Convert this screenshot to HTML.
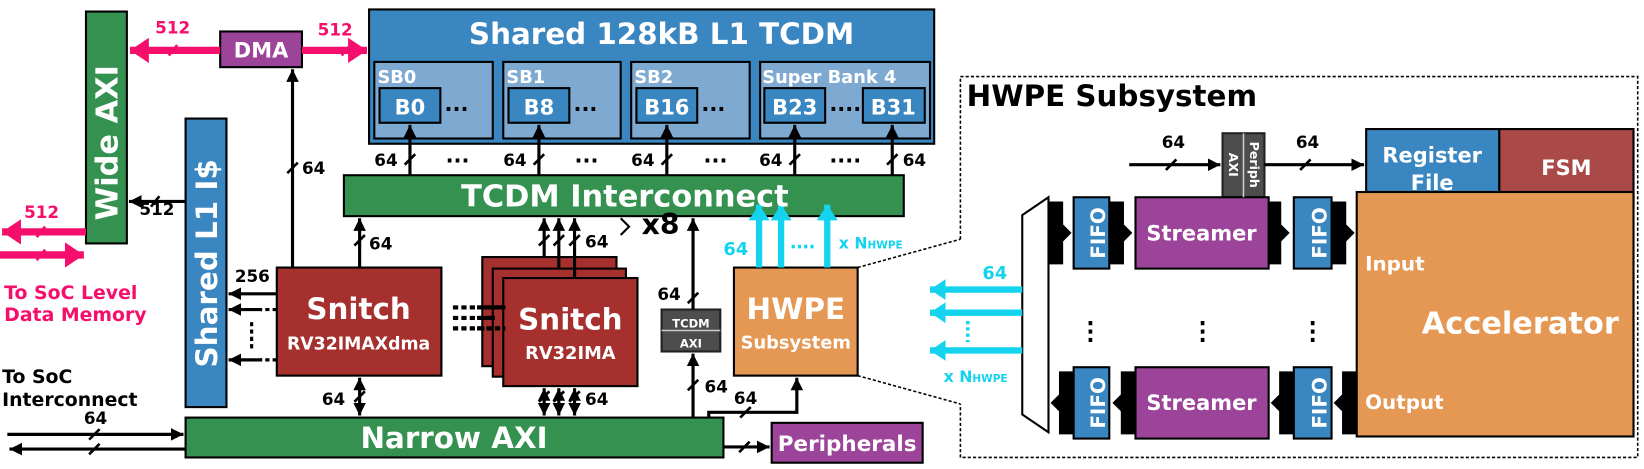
<!DOCTYPE html>
<html><head><meta charset="utf-8"><style>
html,body{margin:0;padding:0;background:#fff;}
svg{display:block}
text{font-family:"DejaVu Sans","Liberation Sans",sans-serif;font-weight:bold;}
</style></head><body>
<svg width="1644" height="469" viewBox="0 0 1568 447" preserveAspectRatio="none" xmlns="http://www.w3.org/2000/svg">
<defs>
<marker id="a" markerUnits="userSpaceOnUse" markerWidth="14" markerHeight="14" refX="12" refY="7" orient="auto"><path d="M0,1 L12,7 L0,13 Z" fill="#000"/></marker>
<marker id="as" markerUnits="userSpaceOnUse" markerWidth="14" markerHeight="14" refX="12" refY="7" orient="auto-start-reverse"><path d="M0,1 L12,7 L0,13 Z" fill="#000"/></marker>
<marker id="p" markerUnits="userSpaceOnUse" markerWidth="20" markerHeight="24" refX="18" refY="12" orient="auto-start-reverse"><path d="M0,0 L18,12 L0,24 Z" fill="#f50e6b"/></marker>
<marker id="c" markerUnits="userSpaceOnUse" markerWidth="16" markerHeight="20" refX="15" refY="10" orient="auto"><path d="M0,0 L15,10 L0,20 Z" fill="#13d3ee"/></marker>
</defs>
<g stroke="#000" stroke-width="2">
<rect x="82" y="11" width="39" height="221" fill="#35914f"/>
<rect x="210" y="30" width="78" height="34" fill="#9b4499"/>
<rect x="352" y="9" width="539" height="128" fill="#3a86c1"/>
<rect x="357" y="59" width="113" height="73" fill="#7eaad2"/>
<rect x="480" y="59" width="112" height="73" fill="#7eaad2"/>
<rect x="602" y="59" width="113" height="73" fill="#7eaad2"/>
<rect x="725" y="59" width="162" height="73" fill="#7eaad2"/>
<rect x="362" y="84" width="58" height="33" fill="#3a86c1"/>
<rect x="485" y="84" width="58" height="33" fill="#3a86c1"/>
<rect x="607" y="84" width="58" height="33" fill="#3a86c1"/>
<rect x="729" y="84" width="58" height="33" fill="#3a86c1"/>
<rect x="823" y="84" width="59" height="33" fill="#3a86c1"/>
<rect x="328" y="167" width="534" height="39" fill="#35914f"/>
<rect x="177" y="113" width="39" height="275" fill="#3a86c1"/>
<rect x="264" y="255" width="157" height="103" fill="#a5302e"/>
<rect x="460" y="245" width="128" height="104" fill="#a5302e"/>
<rect x="470" y="256" width="127" height="103" fill="#a5302e"/>
<rect x="480" y="265" width="128" height="103" fill="#a5302e"/>
<rect x="177" y="398" width="513" height="38" fill="#35914f"/>
<rect x="736" y="403" width="144" height="38" fill="#9b4499"/>
<rect x="631" y="295" width="56" height="40" fill="#4d4d4d" stroke="#222"/>
<rect x="700" y="255" width="118" height="103" fill="#e59853"/>
<rect x="1166" y="127" width="40" height="61" fill="#4d4d4d" stroke="#222"/>
<rect x="1303" y="123" width="127" height="73" fill="#3a86c1"/>
<rect x="1430" y="123" width="128" height="73" fill="#a94a48"/>
<rect x="1294" y="183" width="264" height="233" fill="#e59853"/>
<path d="M975,205 L1000,188 L1000,412 L975,395 Z" fill="#fff"/>
<rect x="1024" y="188" width="34" height="68" fill="#3a86c1"/>
<rect x="1083" y="188" width="127" height="68" fill="#9b4499"/>
<rect x="1234" y="188" width="36" height="68" fill="#3a86c1"/>
<rect x="1024" y="350" width="34" height="68" fill="#3a86c1"/>
<rect x="1083" y="350" width="127" height="68" fill="#9b4499"/>
<rect x="1234" y="350" width="36" height="68" fill="#3a86c1"/>
</g>
<line x1="631" y1="315" x2="687" y2="315" stroke="#ccc" stroke-width="1.5"/>
<line x1="1186" y1="127" x2="1186" y2="188" stroke="#ccc" stroke-width="1.5"/>
<g fill="#000">
<path d="M1000,192 h14 v22 l8,8 l-8,8 v22 h-14 Z"/>
<path d="M1058,192 h14 v22 l8,8 l-8,8 v22 h-14 Z"/>
<path d="M1210,192 h12 v22 l8,8 l-8,8 v22 h-12 Z"/>
<path d="M1270,192 h14 v22 l8,8 l-8,8 v22 h-14 Z"/>
<path d="M1024,354 h-14 v22 l-8,8 l8,8 v22 h14 Z"/>
<path d="M1083,354 h-14 v22 l-8,8 l8,8 v22 h14 Z"/>
<path d="M1234,354 h-14 v22 l-8,8 l8,8 v22 h14 Z"/>
<path d="M1294,354 h-14 v22 l-8,8 l8,8 v22 h14 Z"/>
</g>
<path d="M916,228 L916,73 L1562,73 L1562,436 L916,436 L916,385" fill="none" stroke="#000" stroke-width="1.5" stroke-dasharray="3,2"/>
<path d="M818,255 L916,228 M818,358 L916,385" fill="none" stroke="#000" stroke-width="1.5" stroke-dasharray="3,2"/>
<g stroke="#f50e6b" stroke-width="7" fill="none">
<line x1="210" y1="48" x2="124" y2="48" marker-end="url(#p)"/>
<line x1="288" y1="48" x2="350" y2="48" marker-end="url(#p)"/>
<line x1="82" y1="221" x2="2" y2="221" marker-end="url(#p)"/>
<line x1="0" y1="243" x2="80" y2="243" marker-end="url(#p)"/>
</g>
<g stroke="#f50e6b" stroke-width="2.5"><path d="M161,53 l8,-10 M326,53 l8,-10 M35,226 l8,-10 M35,248 l8,-10"/></g>
<g stroke="#000" stroke-width="3" fill="none">
<line x1="279" y1="255" x2="279" y2="66" marker-end="url(#a)"/>
<line x1="177" y1="192" x2="123" y2="192" marker-end="url(#a)"/>
<line x1="391" y1="167" x2="391" y2="119" marker-end="url(#a)"/>
<line x1="514" y1="167" x2="514" y2="119" marker-end="url(#a)"/>
<line x1="636" y1="167" x2="636" y2="119" marker-end="url(#a)"/>
<line x1="758" y1="167" x2="758" y2="119" marker-end="url(#a)"/>
<line x1="851" y1="167" x2="851" y2="119" marker-end="url(#a)"/>
<line x1="343" y1="255" x2="343" y2="208" marker-end="url(#a)"/>
<line x1="264" y1="280" x2="218" y2="280" marker-end="url(#a)"/>
<line x1="250" y1="295" x2="218" y2="295" marker-end="url(#a)"/>
<line x1="250" y1="343" x2="218" y2="343" marker-end="url(#a)"/>
<line x1="343" y1="360" x2="343" y2="396" marker-start="url(#as)" marker-end="url(#as)"/>
<line x1="519" y1="245" x2="519" y2="208" marker-end="url(#a)"/>
<line x1="533" y1="256" x2="533" y2="208" marker-end="url(#a)"/>
<line x1="548" y1="265" x2="548" y2="208" marker-end="url(#a)"/>
<line x1="519" y1="370" x2="519" y2="396" marker-start="url(#as)" marker-end="url(#as)"/>
<line x1="533" y1="370" x2="533" y2="396" marker-start="url(#as)" marker-end="url(#as)"/>
<line x1="548" y1="370" x2="548" y2="396" marker-start="url(#as)" marker-end="url(#as)"/>
<line x1="661" y1="295" x2="661" y2="208" marker-end="url(#a)"/>
<line x1="661" y1="398" x2="661" y2="337" marker-end="url(#a)"/>
<path d="M676,398 V393 H760 V360" marker-end="url(#a)"/>
<line x1="690" y1="426" x2="734" y2="426" marker-end="url(#a)"/>
<line x1="7" y1="414" x2="175" y2="414" marker-end="url(#a)"/>
<line x1="177" y1="428" x2="9" y2="428" marker-end="url(#a)"/>
<line x1="1077" y1="157" x2="1164" y2="157" marker-end="url(#a)"/>
<line x1="1206" y1="157" x2="1301" y2="157" marker-end="url(#a)"/>
<path d="M592,208 l8,8 l-8,8" stroke-width="2"/>
</g>
<g stroke="#000" stroke-width="3" stroke-dasharray="4,3"><path d="M264,295 H248 M264,343 H248 M240,307 V332"/></g>
<g stroke="#000" stroke-width="4"><path d="M432,293 H482 M432,303 H472 M432,313 H482" stroke-dasharray="5,3"/><path d="M455,293 H482 M455,303 H472 M455,313 H462"/></g>
<g stroke="#000" stroke-width="3.5" stroke-dasharray="4,4"><path d="M1040,306 V330 M1147,306 V330 M1252,306 V330"/></g>
<g stroke="#000" stroke-width="2.5"><path d="M274,165 l10,-10 M144,197 l8,-10 M386,157 l10,-10 M509,157 l10,-10 M631,157 l10,-10 M753,157 l10,-10 M846,157 l10,-10 M338,234 l10,-10 M338,383 l10,-10 M514,234 l10,-10 M528,234 l10,-10 M543,234 l10,-10 M514,383 l10,-10 M528,383 l10,-10 M543,383 l10,-10 M656,289 l10,-10 M656,372 l10,-10 M706,398 l10,-10 M705,431 l10,-10 M85,419 l10,-10 M85,433 l10,-10 M1112,162 l10,-10 M1240,162 l10,-10"/></g>
<g stroke="#13d3ee" stroke-width="6" fill="none">
<line x1="724" y1="255" x2="724" y2="195" marker-end="url(#c)"/>
<line x1="745" y1="255" x2="745" y2="195" marker-end="url(#c)"/>
<line x1="789" y1="255" x2="789" y2="195" marker-end="url(#c)"/>
<line x1="975" y1="276" x2="887" y2="276" marker-end="url(#c)"/>
<line x1="975" y1="298" x2="887" y2="298" marker-end="url(#c)"/>
<line x1="975" y1="334" x2="887" y2="334" marker-end="url(#c)"/>
</g>
<g stroke="#13d3ee" stroke-width="3.5" stroke-dasharray="3,3"><path d="M923,306 V326 M755,235 H777"/></g>
<g fill="#fff" text-anchor="middle">
<text font-size="29" transform="translate(112,136) rotate(-90)">Wide AXI</text>
<text x="249" y="55" font-size="20">DMA</text>
<text x="631" y="42" font-size="28">Shared 128kB L1 TCDM</text>
<text x="391" y="109" font-size="20">B0</text>
<text x="514" y="109" font-size="20">B8</text>
<text x="636" y="109" font-size="20">B16</text>
<text x="758" y="109" font-size="20">B23</text>
<text x="852" y="109" font-size="20">B31</text>
<text x="596" y="197" font-size="29">TCDM Interconnect</text>
<text font-size="28" transform="translate(207,251) rotate(-90)">Shared L1 I$</text>
<text x="342" y="304" font-size="28">Snitch</text>
<text x="342" y="333" font-size="16.5">RV32IMAXdma</text>
<text x="544" y="314" font-size="28">Snitch</text>
<text x="544" y="342" font-size="17">RV32IMA</text>
<text x="433" y="427" font-size="28">Narrow AXI</text>
<text x="808" y="430" font-size="20.5">Peripherals</text>
<text x="659" y="312" font-size="11">TCDM</text>
<text x="659" y="331" font-size="11">AXI</text>
<text x="759" y="304" font-size="28">HWPE</text>
<text x="759" y="332" font-size="17">Subsystem</text>
<text x="1366" y="155" font-size="20">Register</text>
<text x="1366" y="181" font-size="20">File</text>
<text x="1494" y="167" font-size="20">FSM</text>
<text x="1450" y="318" font-size="29">Accelerator</text>
<text x="1146" y="229" font-size="20">Streamer</text>
<text x="1146" y="391" font-size="20">Streamer</text>
<text font-size="19" transform="translate(1047,222) rotate(-90)" y="7">FIFO</text>
<text font-size="19" transform="translate(1258,222) rotate(-90)" y="7">FIFO</text>
<text font-size="19" transform="translate(1047,384) rotate(-90)" y="7">FIFO</text>
<text font-size="19" transform="translate(1258,384) rotate(-90)" y="7">FIFO</text>
<text font-size="12" transform="translate(1196,157) rotate(90)" y="4">Periph</text>
<text font-size="12" transform="translate(1176,157) rotate(90)" y="4">AXI</text>
</g>
<g fill="#fff" font-size="17">
<text x="360" y="79">SB0</text><text x="483" y="79">SB1</text><text x="605" y="79">SB2</text><text x="727" y="79">Super Bank 4</text>
<text x="1302" y="258" font-size="19">Input</text>
<text x="1302" y="390" font-size="19">Output</text>
</g>
<g fill="#000" font-size="16">
<text x="424" y="106" font-size="20">...</text><text x="547" y="106" font-size="20">...</text><text x="669" y="106" font-size="20">...</text><text x="791" y="106" font-size="20">....</text>
<text x="357" y="158">64</text><text x="480" y="158">64</text><text x="602" y="158">64</text><text x="724" y="158">64</text><text x="861" y="158">64</text>
<text x="425" y="155" font-size="20">...</text><text x="548" y="155" font-size="20">...</text><text x="671" y="155" font-size="20">...</text><text x="791" y="155" font-size="20">....</text>
<text x="288" y="166">64</text><text x="133" y="205">512</text><text x="352" y="238">64</text><text x="224" y="269">256</text>
<text x="307" y="386">64</text><text x="558" y="236">64</text><text x="558" y="386">64</text>
<text x="627" y="286">64</text><text x="672" y="374">64</text><text x="700" y="385">64</text>
<text x="80" y="404">64</text>
<text x="1108" y="141">64</text><text x="1236" y="141">64</text>
<text x="2" y="365" font-size="18">To SoC</text><text x="2" y="387" font-size="18">Interconnect</text>
<text x="612" y="223" font-size="27">x8</text>
<text x="922" y="101" font-size="28">HWPE Subsystem</text>
</g>
<g fill="#f50e6b" font-size="16">
<text x="148" y="32">512</text><text x="303" y="34">512</text><text x="23" y="208">512</text>
<text x="4" y="285" font-size="18">To SoC Level</text><text x="4" y="306" font-size="18">Data Memory</text>
</g>
<g fill="#13d3ee" font-size="17">
<text x="690" y="243">64</text>
<text x="800" y="237" font-size="15">x N<tspan font-size="10">HWPE</tspan></text>
<text x="937" y="266">64</text>
<text x="900" y="364" font-size="15">x N<tspan font-size="10">HWPE</tspan></text>
</g>
</svg>
</body></html>
